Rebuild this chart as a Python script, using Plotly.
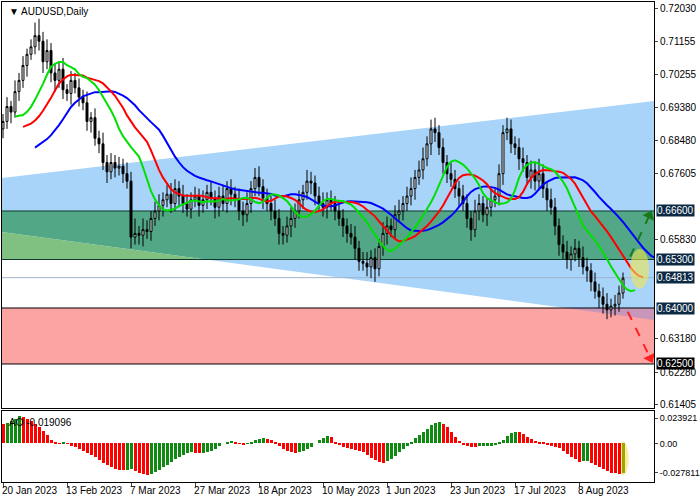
import plotly.graph_objects as go

dates = ["20 Jan 2023","13 Feb 2023","7 Mar 2023","27 Mar 2023","18 Apr 2023","10 May 2023",
         "1 Jun 2023","23 Jun 2023","17 Jul 2023","8 Aug 2023"]
date_idx = [0,16,32,48,64,80,96,112,128,144]

close = [0.6900,0.6940,0.6925,0.6980,0.7010,0.7050,0.7080,0.7100,0.7130,0.7115,
         0.7060,0.7090,0.7030,0.7010,0.7040,0.6985,0.6975,0.7010,0.6990,0.6965,
         0.6950,0.6900,0.6910,0.6855,0.6840,0.6790,0.6765,0.6790,0.6775,0.6780,
         0.6760,0.6740,0.6590,0.6600,0.6595,0.6610,0.6605,0.6640,0.6660,0.6675,
         0.6690,0.6705,0.6680,0.6720,0.6700,0.6680,0.6665,0.6690,0.6700,0.6675,
         0.6690,0.6710,0.6695,0.6670,0.6700,0.6680,0.6720,0.6705,0.6690,0.6660,
         0.6650,0.6680,0.6720,0.6750,0.6725,0.6695,0.6680,0.6660,0.6640,0.6600,
         0.6595,0.6620,0.6640,0.6660,0.6690,0.6710,0.6740,0.6735,0.6700,0.6680,
         0.6670,0.6690,0.6680,0.6660,0.6640,0.6620,0.6600,0.6590,0.6560,0.6525,
         0.6520,0.6510,0.6535,0.6505,0.6565,0.6600,0.6620,0.6610,0.6650,0.6660,
         0.6680,0.6700,0.6720,0.6750,0.6770,0.6800,0.6840,0.6880,0.6870,0.6830,
         0.6790,0.6760,0.6745,0.6720,0.6700,0.6680,0.6640,0.6610,0.6660,0.6680,
         0.6650,0.6670,0.6690,0.6700,0.6760,0.6870,0.6880,0.6840,0.6830,0.6800,
         0.6790,0.6750,0.6770,0.6740,0.6760,0.6720,0.6690,0.6670,0.6620,0.6570,
         0.6550,0.6530,0.6545,0.6560,0.6535,0.6510,0.6500,0.6470,0.6445,0.6430,
         0.6410,0.6395,0.6405,0.6410,0.6440,0.6480]
first_open = 0.6880
up_pips = [20,25,15,30,20,25,15,20,35,45, 25,30,20,25,20,30,15,25,20,25,
           20,30,15,25,20,30,20,25,20,25, 20,30,25,40,20,30,25,20,25,30,
           20,25,30,25,20,30,25,20,25,20, 25,20,30,20,25,30,20,25,20,30,
           25,30,20,25,30,20,25,20,30,25, 20,25,30,20,25,20,30,25,20,25,
           30,20,25,20,30,25,20,25,30,20, 25,30,20,25,20,30,25,20,25,30,
           20,25,30,20,25,30,20,25,30,20, 25,20,30,25,20,30,25,20,30,25,
           20,25,30,20,25,20,30,25,20,25, 30,20,25,20,40,25,20,30,25,20,
           25,30,20,25,20,30,25,20,25,20, 25,30,20,25,20,15]
dn_pips = [25,20,30,15,25,20,30,15,20,25, 30,20,25,30,20,25,20,30,15,25,
           20,25,30,20,25,20,30,20,25,20, 25,20,30,20,25,30,20,25,20,25,
           30,20,25,20,30,25,20,25,20,30, 20,25,20,30,25,20,25,30,20,25,
           30,20,25,20,25,30,20,25,20,30, 25,20,30,25,20,25,20,30,25,20,
           25,30,20,25,20,30,25,20,30,25, 20,25,30,35,20,25,30,20,25,20,
           25,20,25,30,20,25,20,30,25,20, 30,25,20,25,30,20,25,30,20,25,
           20,30,25,20,25,30,20,25,20,30, 25,20,30,25,20,25,30,20,25,30,
           20,25,30,20,25,20,30,25,20,30, 25,25,20,25,20,15]
ao = [0.0185,0.0190,0.0215,0.0235,0.0255,0.0250,0.0230,0.0210,0.0185,0.0155,
      0.0120,0.0075,0.0030,0.0005,0.0002,0.0010,-0.0005,-0.0020,-0.0030,-0.0050,
      -0.0070,-0.0090,-0.0110,-0.0130,-0.0160,-0.0180,-0.0200,-0.0220,-0.0240,-0.0250,
      -0.0255,-0.0250,-0.0245,-0.0260,-0.0275,-0.0290,-0.0300,-0.0290,-0.0270,-0.0250,
      -0.0225,-0.0200,-0.0175,-0.0150,-0.0130,-0.0110,-0.0095,-0.0085,-0.0090,-0.0095,
      -0.0090,-0.0085,-0.0075,-0.0050,-0.0025,0.0000,0.0015,0.0020,0.0010,-0.0005,
      -0.0015,-0.0005,0.0015,0.0030,0.0045,0.0050,0.0045,0.0030,0.0010,-0.0020,
      -0.0050,-0.0075,-0.0085,-0.0090,-0.0085,-0.0070,-0.0050,-0.0030,0.0000,0.0030,
      0.0055,0.0070,0.0060,0.0010,-0.0010,-0.0030,-0.0045,-0.0055,-0.0060,-0.0070,
      -0.0085,-0.0110,-0.0135,-0.0160,-0.0175,-0.0180,-0.0170,-0.0150,-0.0120,-0.0080,
      -0.0050,-0.0020,0.0015,0.0050,0.0080,0.0110,0.0140,0.0170,0.0190,0.0200,
      0.0185,0.0155,0.0110,0.0060,0.0020,-0.0010,-0.0025,-0.0030,-0.0030,-0.0028,
      -0.0026,-0.0024,-0.0022,-0.0015,0.0005,0.0035,0.0070,0.0095,0.0110,0.0110,
      0.0090,0.0060,0.0040,0.0025,0.0015,0.0005,-0.0010,-0.0020,-0.0030,-0.0045,
      -0.0070,-0.0100,-0.0125,-0.0150,-0.0175,-0.0170,-0.0165,-0.0180,-0.0200,-0.0225,
      -0.0245,-0.0260,-0.0275,-0.0280,-0.0285,-0.0280]

# Alligator settings (period, shift, seed, colour)
alligator = [(13, 8, 0.6825, "#0000ff"), (8, 5, 0.6885, "#ff0000"), (5, 3, 0.6920, "#00e000")]

levels = [0.6660, 0.6530, 0.6400, 0.6250]
current = 0.64813
green_zone = (0.6530, 0.6660)
red_zone = (0.6250, 0.6400)
channel_upper = (0.67484, 0.69548)
channel_lower = (0.66037, 0.63680)
main_ticks = [0.72030,0.71155,0.70255,0.69380,0.68480,0.67605,0.65830,0.63180,0.62280,0.61405]
ao_ticks = [0.023921, 0.0, -0.027811]
ao_tick_text = ["0.023921", "0.00", "-0.027811"]

X0, X1 = -0.25, 162.75
n = len(close)
idx = list(range(n))
opens = [first_open] + close[:-1]
highs = [max(o, c) + u * 0.0001 for o, c, u in zip(opens, close, up_pips)]
lows = [min(o, c) - d * 0.0001 for o, c, d in zip(opens, close, dn_pips)]
med = [(h + l) / 2 for h, l in zip(highs, lows)]

fig = go.Figure()

def poly(xs, ys, color):
    p = "M " + " L ".join(f"{x},{y}" for x, y in zip(xs, ys)) + " Z"
    fig.add_shape(type="path", path=p, xref="x", yref="y", fillcolor=color,
                  line_width=0, layer="below")

def lower_at(x):
    return channel_lower[0] + (channel_lower[1] - channel_lower[0]) * (x - X0) / (X1 - X0)

poly([X0, X1, X1, X0], [channel_upper[0], channel_upper[1], channel_lower[1], channel_lower[0]], "#a8d4fa")
xc = X0 + (green_zone[0] - channel_lower[0]) / (channel_lower[1] - channel_lower[0]) * (X1 - X0)
poly([X0, X1, X1, xc, X0], [green_zone[1], green_zone[1], green_zone[0], green_zone[0], lower_at(X0)], "#52a886")
poly([X0, xc, X0], [lower_at(X0), green_zone[0], green_zone[0]], "#80c080")
poly([X0, X1, X1, X0], [red_zone[1], red_zone[1], red_zone[0], red_zone[0]], "#fca4a4")
xr = X0 + (red_zone[1] - channel_lower[0]) / (channel_lower[1] - channel_lower[0]) * (X1 - X0)
poly([xr, X1, X1], [red_zone[1], red_zone[1], channel_lower[1]], "#c896b8")

for lv in levels:
    fig.add_shape(type="line", xref="x", yref="y", x0=X0, x1=X1, y0=lv, y1=lv,
                  line=dict(color="#000000" if lv in (0.6400, 0.6250) else "#0d3a2a", width=1), layer="below")
fig.add_shape(type="line", xref="x", yref="y", x0=X0, x1=X1, y0=current, y1=current,
              line=dict(color="#a0b4c8", width=1), layer="below")

fig.add_trace(go.Candlestick(x=idx, open=opens, high=highs, low=lows, close=close,
                             increasing=dict(line=dict(color="#000000", width=1), fillcolor="#ffffff"),
                             decreasing=dict(line=dict(color="#000000", width=1), fillcolor="#000000"),
                             whiskerwidth=0, showlegend=False, xaxis="x", yaxis="y"))

fig.add_shape(type="circle", xref="x", yref="y", x0=156.8, x1=161.5, y0=0.6452, y1=0.6558,
              fillcolor="rgba(240,230,80,0.6)", line_width=0)

for period, shift, seed, color in alligator:
    vals = []
    s = seed
    for m in med:
        s = (s * (period - 1) + m) / period
        vals.append(s)
    fig.add_trace(go.Scatter(x=[i + shift for i in idx], y=vals, mode="lines",
                             line=dict(color=color, width=2), showlegend=False, xaxis="x", yaxis="y"))

for xs, ys, col in [([156.8, 161.6], [0.6538, 0.6648], "#1a7a1a"), ([156.2, 161.8], [0.6390, 0.6266], "#ff2020")]:
    fig.add_trace(go.Scatter(x=xs, y=ys, mode="lines+markers",
                             line=dict(color=col, width=2, dash="dash"),
                             marker=dict(symbol="triangle-up", size=11, angleref="previous", color=col, opacity=[0, 1]),
                             showlegend=False, xaxis="x", yaxis="y", cliponaxis=False))

ao_colors = ["#ff0000"] + ["#108a10" if ao[i] > ao[i - 1] else "#ff0000" for i in range(1, n)]
ao_colors[-1] = "#9aa800"
fig.add_shape(type="circle", xref="x2", yref="y2", x0=153.6, x1=156.4, y0=-0.0300, y1=0.0015,
              fillcolor="rgba(250,230,120,0.7)", line_width=0, layer="below")
fig.add_trace(go.Bar(x=idx, y=ao, marker=dict(color=ao_colors, line_width=0), width=0.75,
                     showlegend=False, xaxis="x2", yaxis="y2"))

font = "Liberation Sans"
H = 480.0
main_bottom = (482 - 408) / H
ao_top = (482 - 411) / H
axis_common = dict(showgrid=False, zeroline=False, showline=True, linecolor="#000000", mirror=True,
                   linewidth=1, automargin=False)
fig.update_layout(
    width=700, height=500, margin=dict(l=2, r=46, t=2, b=18, autoexpand=False),
    paper_bgcolor="white", plot_bgcolor="white", bargap=0,
    font=dict(family=font, size=10, color="#000000"),
    xaxis=dict(domain=[0, 1], range=[X0, X1], showticklabels=False, rangeslider=dict(visible=False),
               anchor="y", **axis_common),
    yaxis=dict(domain=[main_bottom, 1], range=[0.61320, 0.72201], side="right", tickvals=main_ticks,
               ticktext=[f"{v:.5f}" for v in main_ticks], ticks="outside", ticklen=3, anchor="x",
               **axis_common),
    xaxis2=dict(domain=[0, 1], range=[X0, X1], tickvals=date_idx, ticktext=[""] * len(date_idx),
                ticks="outside", ticklen=4, anchor="y2", **axis_common),
    yaxis2=dict(domain=[0, ao_top], range=[-0.0364, 0.0306], side="right", tickvals=ao_ticks,
                ticktext=ao_tick_text, ticks="outside", ticklen=3, anchor="x2",
                tickfont=dict(size=9), **axis_common),
)

for di, dt in zip(date_idx, dates):
    fig.add_annotation(x=di, y=0, xref="x2", yref="paper", text=dt, showarrow=False,
                       xanchor="left", yanchor="top", yshift=-1, xshift=-3, font=dict(size=10, family=font))

for lv, bg in [(0.6660, "#0d2a45"), (0.6530, "#0d2a45"), (current, "#0d2a45"), (0.6400, "#0d2a45"), (0.6250, "#000000")]:
    fig.add_annotation(x=1, y=lv, xref="paper", yref="y", text=f"{lv:.5f}", showarrow=False,
                       xanchor="left", xshift=2, bgcolor=bg, font=dict(color="white", size=10, family=font),
                       borderpad=0)

fig.add_annotation(x=0.008, y=1, xref="paper", yref="paper", text="▼ AUDUSD,Daily", showarrow=False,
                   xanchor="left", yanchor="top", yshift=-2, font=dict(size=10, family=font))
fig.add_annotation(x=0.008, y=ao_top, xref="paper", yref="paper", text="AO -0.019096", showarrow=False,
                   xanchor="left", yanchor="top", yshift=-4, font=dict(size=10, family=font))

fig.write_html("out.html", config={"displayModeBar": False},
               post_script="document.body.style.margin='0';document.body.style.overflow='hidden';")
